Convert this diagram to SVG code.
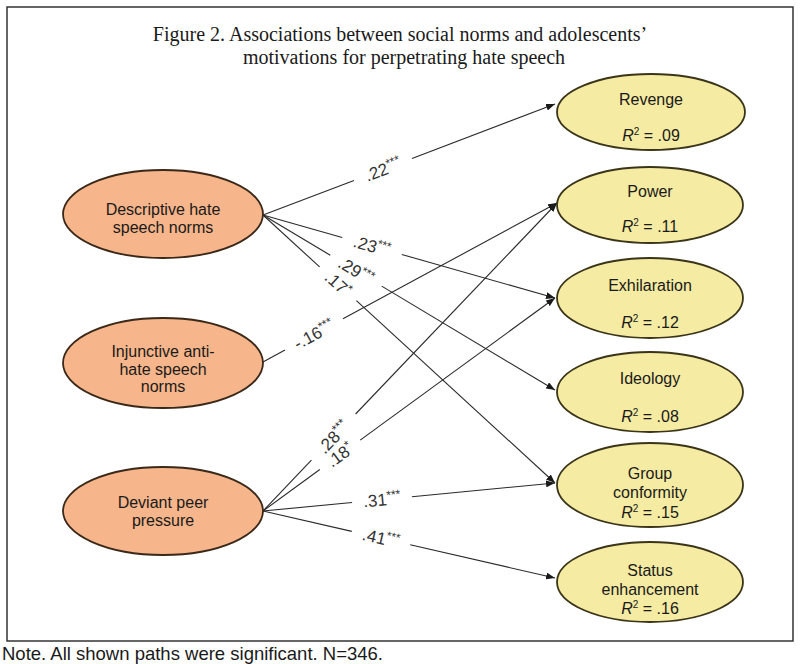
<svg xmlns="http://www.w3.org/2000/svg" width="800" height="664" viewBox="0 0 800 664">
<defs>
<style>
.t{font-family:"Liberation Serif","Times New Roman",serif;font-size:20px;fill:#1a1a1a;text-anchor:middle}
.n{font-family:"Liberation Sans",Arial,sans-serif;font-size:16px;fill:#1a1a1a;text-anchor:middle}
.l{font-family:"Liberation Sans",Arial,sans-serif;font-size:17px;fill:#333;text-anchor:middle}
.s{font-size:12px}
.note{font-family:"Liberation Sans",Arial,sans-serif;font-size:18.5px;fill:#1a1a1a}
.src{fill:#f6b58a;stroke:#3a2818;stroke-width:1.8}
.dst{fill:#f5eba2;stroke:#3a3418;stroke-width:1.8}
.e{stroke:#2a2a2a;stroke-width:1.1;fill:none}
</style>
<marker id="ah" markerWidth="9" markerHeight="7" refX="9" refY="3.5" orient="auto" markerUnits="userSpaceOnUse">
<path d="M0,0 L9,3.5 L0,7 z" fill="#1a1a1a"/>
</marker>
</defs>
<rect x="0" y="0" width="800" height="664" fill="#ffffff"/>
<rect x="7" y="7" width="786" height="634" fill="#ffffff" stroke="#333" stroke-width="1.5"/>
<text class="t" x="400" y="41">Figure 2. Associations between social norms and adolescents’</text>
<text class="t" x="404" y="64">motivations for perpetrating hate speech</text>

<g id="connectors">
<line class="e" x1="263" y1="215" x2="354" y2="180.4"/><line class="e" x1="412" y1="158.4" x2="555" y2="104" marker-end="url(#ah)"/>
<line class="e" x1="263" y1="215" x2="342.2" y2="237.5"/><line class="e" x1="401.8" y1="254.5" x2="555" y2="298" marker-end="url(#ah)"/>
<line class="e" x1="263" y1="215" x2="330.3" y2="255.3"/><line class="e" x1="381.7" y1="286.1" x2="555" y2="390" marker-end="url(#ah)"/>
<line class="e" x1="263" y1="215" x2="319.6" y2="266.9"/><line class="e" x1="356.4" y1="300.7" x2="555" y2="483" marker-end="url(#ah)"/>
<line class="e" x1="263" y1="362" x2="285" y2="350.1"/><line class="e" x1="343" y1="318.7" x2="557" y2="203" marker-end="url(#ah)"/>
<line class="e" x1="263" y1="511" x2="311.4" y2="460.2"/><line class="e" x1="355.6" y1="414" x2="557" y2="203" marker-end="url(#ah)"/>
<line class="e" x1="263" y1="511" x2="319.8" y2="469.5"/><line class="e" x1="360.2" y1="440.1" x2="555" y2="298" marker-end="url(#ah)"/>
<line class="e" x1="263" y1="511" x2="352.1" y2="502.5"/><line class="e" x1="411.9" y1="496.7" x2="555" y2="483" marker-end="url(#ah)"/>
<line class="e" x1="263" y1="511" x2="351.8" y2="531.4"/><line class="e" x1="410.2" y1="544.8" x2="555" y2="578" marker-end="url(#ah)"/>
<g transform="translate(383,169.4) rotate(-20.82)"><text class="l" y="6">.22<tspan class="s" dy="-6">***</tspan></text></g>
<g transform="translate(372,246) rotate(15.87)"><text class="l" y="6">.23<tspan class="s" dy="-6">***</tspan></text></g>
<g transform="translate(356,270.7) rotate(30.93)"><text class="l" y="6">.29<tspan class="s" dy="-6">***</tspan></text></g>
<g transform="translate(338,283.8) rotate(42.55)"><text class="l" y="6">.17<tspan class="s" dy="-6">*</tspan></text></g>
<g transform="translate(314,334.4) rotate(-28.41)"><text class="l" y="6">-.16<tspan class="s" dy="-6">***</tspan></text></g>
<g transform="translate(333.5,437.1) rotate(-46.33)"><text class="l" y="6">.28<tspan class="s" dy="-6">***</tspan></text></g>
<g transform="translate(340,454.8) rotate(-36.11)"><text class="l" y="6">.18<tspan class="s" dy="-6">*</tspan></text></g>
<g transform="translate(382,499.6) rotate(-5.48)"><text class="l" y="6">.31<tspan class="s" dy="-6">***</tspan></text></g>
<g transform="translate(381,538.1) rotate(12.92)"><text class="l" y="6">.41<tspan class="s" dy="-6">***</tspan></text></g>
</g>

<g id="descriptive">
<ellipse class="src" cx="163" cy="214" rx="100" ry="44"/>
<text class="n" x="163" y="215">Descriptive hate</text>
<text class="n" x="163" y="233">speech norms</text>
</g>
<g id="injunctive">
<ellipse class="src" cx="163" cy="363" rx="100" ry="45"/>
<text class="n" x="163" y="357">Injunctive anti-</text>
<text class="n" x="163" y="374.5">hate speech</text>
<text class="n" x="163" y="392">norms</text>
</g>
<g id="deviant">
<ellipse class="src" cx="163" cy="511" rx="100" ry="44"/>
<text class="n" x="163" y="508">Deviant peer</text>
<text class="n" x="163" y="526">pressure</text>
</g>

<g id="revenge">
<ellipse class="dst" cx="651" cy="112" rx="94" ry="38"/>
<text class="n" x="651" y="105">Revenge</text>
<text class="n" x="651" y="141"><tspan font-style="italic">R</tspan><tspan font-size="10" dy="-6">2</tspan><tspan dy="6"> = .09</tspan></text>
</g>
<g id="power">
<ellipse class="dst" cx="650" cy="205" rx="93" ry="38"/>
<text class="n" x="650" y="197">Power</text>
<text class="n" x="650" y="232"><tspan font-style="italic">R</tspan><tspan font-size="10" dy="-6">2</tspan><tspan dy="6"> = .11</tspan></text>
</g>
<g id="exhilaration">
<ellipse class="dst" cx="650" cy="298" rx="93" ry="40"/>
<text class="n" x="650" y="291">Exhilaration</text>
<text class="n" x="650" y="328"><tspan font-style="italic">R</tspan><tspan font-size="10" dy="-6">2</tspan><tspan dy="6"> = .12</tspan></text>
</g>
<g id="ideology">
<ellipse class="dst" cx="650" cy="392" rx="93" ry="40"/>
<text class="n" x="650" y="384">Ideology</text>
<text class="n" x="650" y="422"><tspan font-style="italic">R</tspan><tspan font-size="10" dy="-6">2</tspan><tspan dy="6"> = .08</tspan></text>
</g>
<g id="group">
<ellipse class="dst" cx="650" cy="485" rx="93" ry="42"/>
<text class="n" x="650" y="479">Group</text>
<text class="n" x="650" y="498">conformity</text>
<text class="n" x="650" y="518"><tspan font-style="italic">R</tspan><tspan font-size="10" dy="-6">2</tspan><tspan dy="6"> = .15</tspan></text>
</g>
<g id="status">
<ellipse class="dst" cx="650" cy="582" rx="93" ry="40"/>
<text class="n" x="650" y="576">Status</text>
<text class="n" x="650" y="595">enhancement</text>
<text class="n" x="650" y="614"><tspan font-style="italic">R</tspan><tspan font-size="10" dy="-6">2</tspan><tspan dy="6"> = .16</tspan></text>
</g>

<text class="note" x="2" y="660">Note. All shown paths were significant. N=346.</text>
</svg>
